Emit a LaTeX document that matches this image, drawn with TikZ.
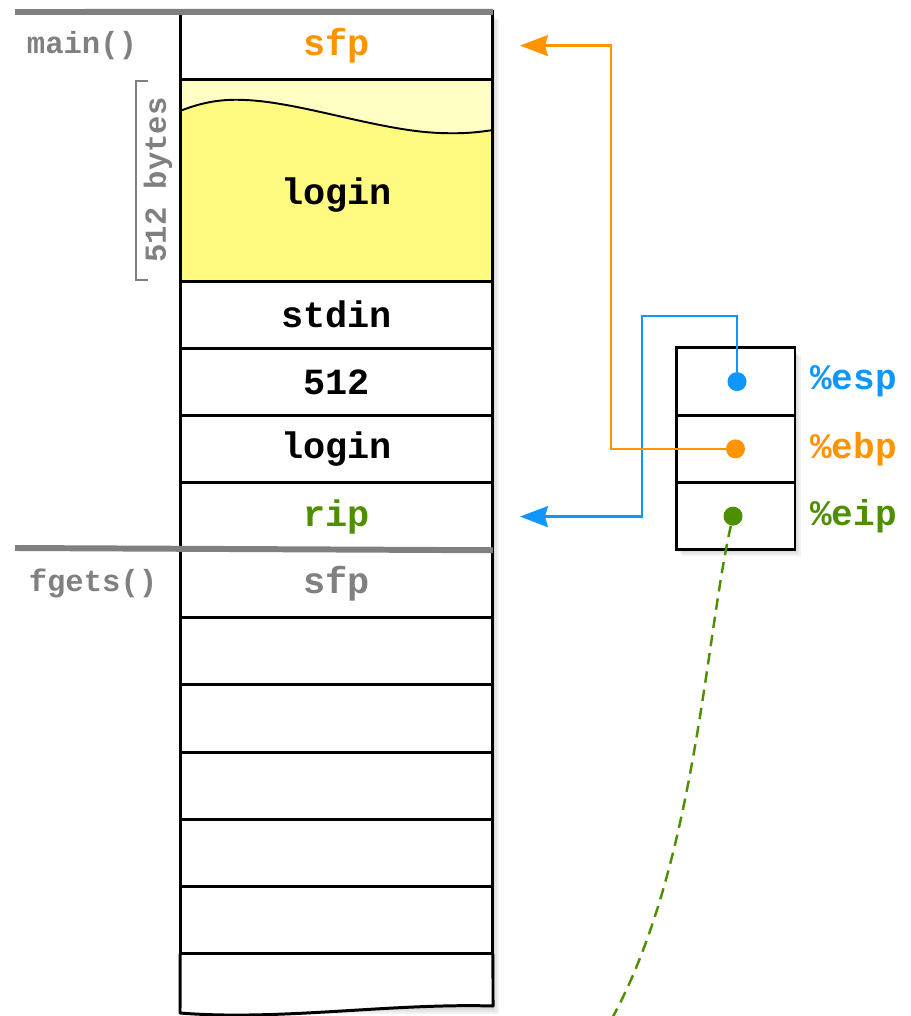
\documentclass[tikz,border=0pt]{standalone}
\usepackage{fontspec}
\newfontfamily\cour{Liberation Mono}
\usetikzlibrary{positioning,arrows.meta}

\definecolor{sfporange}{RGB}{255,147,0}
\definecolor{espblue}{RGB}{16,150,255}
\definecolor{eipgreen}{RGB}{78,143,0}
\definecolor{framegray}{RGB}{128,128,128}
\definecolor{buflight}{RGB}{255,255,196}
\definecolor{bufdark}{RGB}{255,250,128}

\tikzset{
	cell/.style={draw, line width=1.7pt, outer sep=0pt, inner sep=0pt, minimum width=6.26cm, minimum height=1.346cm, fill=white, font=\cour\bfseries\fontsize{21}{24}\selectfont},
	reg/.style={draw, line width=1.7pt, outer sep=0pt, inner sep=0pt, minimum width=2.38cm, minimum height=1.346cm, fill=white},
	reglabel/.style={anchor=west, inner sep=0pt, font=\cour\bfseries\fontsize{20.5}{24}\selectfont},
	framelabel/.style={text=framegray, inner sep=0pt, font=\cour\bfseries\fontsize{17.4}{20}\selectfont},
	frameline/.style={framegray, line width=3.4pt},
	ptr/.style={line width=1.3pt, -{Stealth[length=0.56cm,width=0.42cm,inset=0.06cm]}},
	dot/.style={circle, fill, inner sep=0pt, minimum size=0.38cm},
}

\begin{document}
\begin{tikzpicture}[x=0.02cm, y=-0.02cm]
	\useasboundingbox (0,0) rectangle (911,1016);
	% soft shadows
	\foreach \s in {1,2,3}
		\fill[black, opacity=.05] (180+2*\s,14+2*\s) rectangle (493+2*\s,1008+2*\s);
	\foreach \s in {1,2,3}
		\fill[black, opacity=.05] (676+2*\s,350+2*\s) rectangle (795+2*\s,550+2*\s);

	% last, cut off slot of the fgets() frame
	\coordinate (botleft) at (180,1013);
	\coordinate (botright) at (493,1006);
	\fill[white] (180,950) -- (botleft) .. controls (280,1021) and (390,1003) .. (botright) -- (493,950) -- cycle;

	% main() frame
	\node[cell, text=sfporange] (sfp) at (336.5,45.6) {sfp};
	\node[cell, fill=buflight, minimum height=4.038cm, below=0pt of sfp] (buf) {};
	\node[cell, below=0pt of buf] (stdin) {stdin};
	\node[cell, below=0pt of stdin] (size) {512};
	\node[cell, below=0pt of size] (arg) {login};
	\node[cell, text=eipgreen, below=0pt of arg] (rip) {rip};

	% fgets() frame
	\node[cell, text=framegray, below=0pt of rip] (fsfp) {sfp};
	\foreach \n [remember=\n as \last (initially fsfp)] in {f1,f2,f3,f4,f5}
		\node[cell, below=0pt of \last] (\n) {};
	\draw[line width=1.7pt, line join=round] (f5.south west) -- (botleft) .. controls (280,1021) and (390,1003) .. (botright) -- (f5.south east);

	% buffer filled by fgets
	\fill[bufdark] (180,111) .. controls (205,101) and (225,99) .. (245,100) .. controls (300,102) and (380,131) .. (440,133) .. controls (465,134) and (480,132) .. (493,130) -- (buf.south east) -- (buf.south west) -- cycle;
	\draw[line width=1.1pt] (180,111) .. controls (205,101) and (225,99) .. (245,100) .. controls (300,102) and (380,131) .. (440,133) .. controls (465,134) and (480,132) .. (493,130);
	\draw[line width=1.7pt] (buf.north west) rectangle (buf.south east);
	\node[cell, draw=none, fill=none] (buftext) at (336.5,195) {login};

	% size bracket
	\draw[framegray, line width=1.6pt] (148,81) -- (136,81) -- (136,280) -- (148,280);
	\node[framelabel, rotate=90] (bytes) at (158,180) {512 bytes};

	% frame labels and separators
	\node[framelabel] (mainlbl) at (82,46) {main()};
	\node[framelabel] (fgetslbl) at (93,583) {fgets()};
	\draw[frameline] (15,12) -- (sfp.north east);
	\draw[frameline] (15,548) -- (rip.south east);

	% registers
	\node[reg] (esp) at (735.5,381.6) {};
	\node[reg, below=0pt of esp] (ebp) {};
	\node[reg, below=0pt of ebp] (eip) {};
	\node[reglabel, text=espblue] (lesp) at ([xshift=0.3cm]esp.east) {\%esp};
	\node[reglabel, text=sfporange] (lebp) at ([xshift=0.3cm]ebp.east) {\%ebp};
	\node[reglabel, text=eipgreen] (leip) at ([xshift=0.3cm]eip.east) {\%eip};
	\node[dot, espblue] (espdot) at ([xshift=0.03cm]esp.center) {};
	\node[dot, sfporange] (ebpdot) at (ebp.center) {};
	\node[dot, eipgreen] (eipdot) at ([xshift=-0.05cm]eip.center) {};

	% pointers
	\coordinate (riptip) at ([xshift=0.54cm]rip.east);
	\coordinate (sfptip) at ([xshift=0.54cm]sfp.east);
	\coordinate (eipend) at (610,1022);
	\draw[ptr, espblue] (espdot) |- (642,316) |- (riptip);
	\draw[ptr, sfporange] (ebpdot) -| (611,45.6) -- (sfptip);
	\draw[eipgreen, line width=1.4pt, dash pattern=on 6.5pt off 4pt] (eipdot) .. controls (705,640) and (695,870) .. (eipend);
\end{tikzpicture}
\end{document}
